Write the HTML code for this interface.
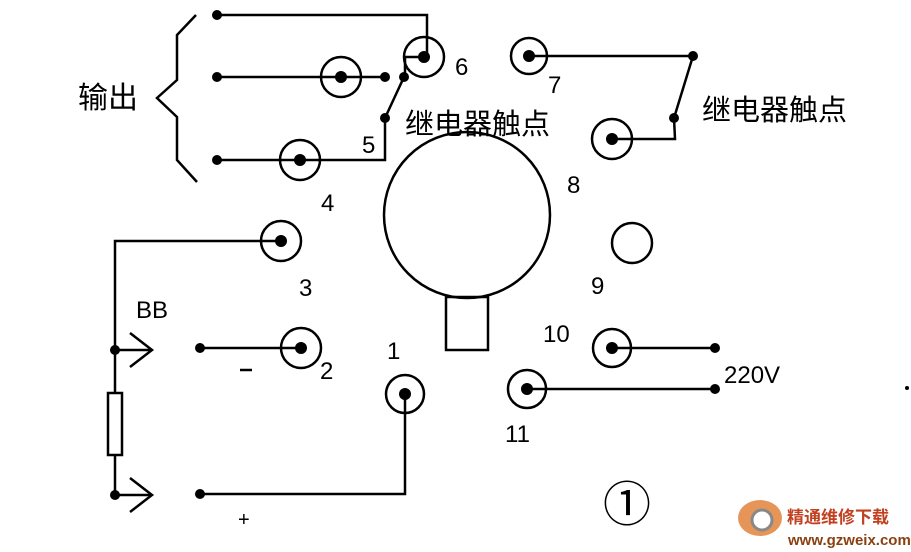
<!DOCTYPE html>
<html><head><meta charset="utf-8"><style>
html,body{margin:0;padding:0;background:#fff;width:911px;height:552px;overflow:hidden}
text{font-family:"Liberation Sans","Noto Sans CJK SC",sans-serif;fill:#000}
</style></head><body>
<svg width="911" height="552" viewBox="0 0 911 552" xmlns="http://www.w3.org/2000/svg">
<g stroke="#000" stroke-width="2.5" fill="none">
<polyline points="196,15 177,35 177,80 157,98 177,117 177,160 197,182"/>
<polyline points="217,15 427,15 427,57"/>
<polyline points="405,57 424,57"/>
<polyline points="405,57 405,75"/>
<polyline points="404,77 385,118 385,160 217,160"/>
<line x1="217" y1="77" x2="385" y2="77"/>
<circle cx="424" cy="57" r="20"/>
<circle cx="341" cy="77" r="20"/>
<circle cx="300" cy="160" r="20"/>
<circle cx="529" cy="56" r="18"/>
<polyline points="529,56 693,56 674,118 675,139 612,139"/>
<circle cx="612" cy="139" r="20"/>
<circle cx="467" cy="215" r="83"/>
<rect x="446" y="297" width="42" height="53"/>
<circle cx="632" cy="243" r="20"/>
<circle cx="281" cy="241" r="20"/>
<polyline points="281,241 115,241 115,393"/>
<rect x="108" y="393" width="14" height="62"/>
<line x1="115" y1="455" x2="115" y2="495"/>
<polyline points="115,350 152,350"/><polyline points="130,333 152,350 130,367"/>
<polyline points="115,495 152,495"/><polyline points="130,478 152,495 130,512"/>
<line x1="200" y1="348" x2="301" y2="348"/>
<circle cx="301" cy="348" r="20"/>
<polyline points="200,494 405,494 405,394"/>
<circle cx="405" cy="394" r="19"/>
<line x1="612" y1="348" x2="715" y2="348"/>
<circle cx="612" cy="348" r="19"/>
<line x1="527" y1="389" x2="715" y2="389"/>
<circle cx="527" cy="389" r="19"/>
<line x1="240" y1="370" x2="252" y2="370"/>
</g>
<g fill="#000">
<circle cx="217" cy="15" r="5"/><circle cx="217" cy="77" r="5"/><circle cx="217" cy="160" r="5"/>
<circle cx="424" cy="57" r="6"/><circle cx="341" cy="77" r="6"/><circle cx="300" cy="160" r="6"/>
<circle cx="385" cy="77" r="5"/><circle cx="404" cy="77" r="5"/><circle cx="385" cy="118" r="5"/>
<circle cx="529" cy="56" r="6"/><circle cx="693" cy="56" r="5"/><circle cx="674" cy="118" r="5"/><circle cx="612" cy="139" r="6"/>
<circle cx="281" cy="241" r="6"/><circle cx="115" cy="350" r="5"/><circle cx="115" cy="495" r="5"/>
<circle cx="200" cy="348" r="5"/><circle cx="301" cy="348" r="6"/><circle cx="200" cy="494" r="5"/>
<circle cx="405" cy="394" r="6"/><circle cx="612" cy="348" r="6"/><circle cx="527" cy="389" r="6"/>
<circle cx="715" cy="348" r="5"/><circle cx="715" cy="389" r="5"/>
<circle cx="907" cy="388" r="2"/>
</g>
<g font-size="24">
<text x="78" y="108" font-size="30">输出</text>
<text x="405" y="134" font-size="29">继电器触点</text>
<text x="702" y="120" font-size="29">继电器触点</text>
<text x="455" y="75">6</text>
<text x="548" y="93">7</text>
<text x="362" y="153">5</text>
<text x="567" y="193">8</text>
<text x="321" y="211">4</text>
<text x="299" y="296">3</text>
<text x="591" y="294">9</text>
<text x="543" y="342">10</text>
<text x="320" y="379">2</text>
<text x="387" y="359">1</text>
<text x="505" y="442">11</text>
<text x="724" y="383">220V</text>
<text x="136" y="318">BB</text>
<text x="238" y="526" font-size="20">+</text>
<text x="603" y="521" font-size="48" font-family="Liberation Serif,serif">①</text>
</g>
<g>
<ellipse cx="760" cy="518" rx="22" ry="18" fill="#e07a30" opacity="0.8"/>
<circle cx="762" cy="520" r="10" fill="#fff" stroke="#888" stroke-width="3"/>
<text x="787" y="523" font-size="17" font-weight="bold" style="fill:#c04020">精通维修下载</text>
<text x="788" y="545" font-size="15" font-weight="bold" style="fill:#8a4010">www.gzweix.com</text>
</g>
</svg>
</body></html>
